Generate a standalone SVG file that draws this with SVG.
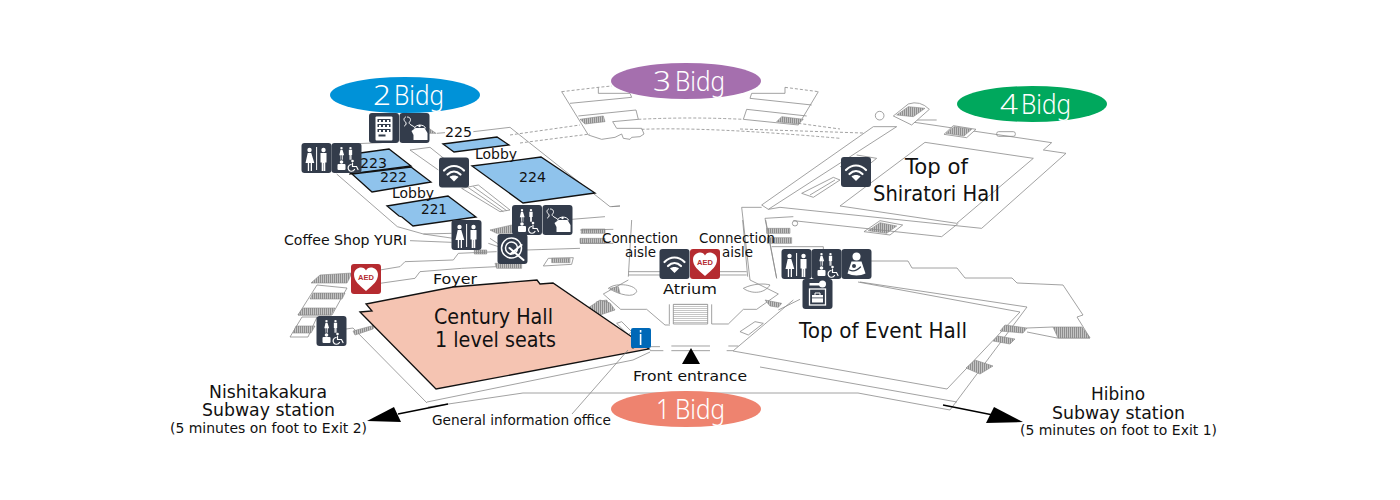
<svg xmlns="http://www.w3.org/2000/svg" width="1400" height="500" viewBox="0 0 1400 500">
<style>
text{font-family:"DejaVu Sans","Liberation Sans",sans-serif;fill:#111}
.l{fill:none;stroke:#8a8a8a;stroke-width:.8;vector-effect:non-scaling-stroke}
.d{fill:none;stroke:#8a8a8a;stroke-width:.8;stroke-dasharray:3 2;vector-effect:non-scaling-stroke}
.w{fill:#fff;stroke:#8a8a8a;stroke-width:.8;vector-effect:non-scaling-stroke}
.h{fill:url(#hatch);stroke:#8a8a8a;stroke-width:.6;vector-effect:non-scaling-stroke}
.hs{fill:url(#hatch3);stroke:#8a8a8a;stroke-width:.6;vector-effect:non-scaling-stroke}
.room{fill:#8fc3ec;stroke:#111;stroke-width:1.3}
.s12{font-size:13.5px}.s14{font-size:14.5px}.s16{font-size:17.5px}.s20{font-size:22px}
text.big{font-family:"Noto Sans","Open Sans","Liberation Sans",sans-serif;font-size:27px;fill:#fff;font-weight:300}
.bg{fill:#333c4b}
.iw{fill:#fff}
.st{fill:none;stroke:#fff;stroke-linecap:round}
</style>
<defs>
<pattern id="hatch" width="2" height="2" patternUnits="userSpaceOnUse"><rect width="2" height="2" fill="#c4c4c4"/><rect width="1" height="2" fill="#8e8e8e"/></pattern>
<pattern id="hatch3" width="6" height="6" patternUnits="userSpaceOnUse"><rect width="6" height="6" fill="#c4c4c4"/><rect width="3" height="6" fill="#8e8e8e"/></pattern>
<pattern id="treads" width="6" height="6" patternUnits="userSpaceOnUse"><rect width="6" height="6" fill="#fff"/><rect width="6" height="1.500" y="0" fill="#8e8e8e"/></pattern>
<rect id="tile" width="30" height="30" rx="3"/>
<g id="woman"><circle cx="0" cy="-8" r="2.200"/><path d="M-1.800-5h3.600l3 10h-2.300v8h-1.300v-8h-1.600v8h-1.300v-8h-2.300z"/></g>
<g id="man"><circle cx="0" cy="-8" r="2.200"/><path d="M-3-5h6v9.500h-1.200v8.500h-1.600v-8h-.4v8h-1.600v-8.500h-1.200z"/></g>
<g id="i-toilet"><use href="#tile" class="bg"/><g class="iw"><use href="#woman" x="8" y="15"/><use href="#man" x="22" y="15"/><rect x="14.600" y="4" width="1" height="23"/></g></g>
<g id="i-access"><use href="#tile" class="bg"/><g class="iw"><g transform="translate(10,9.500) scale(.55)"><use href="#woman"/></g><g transform="translate(19,9.500) scale(.55)"><use href="#man"/></g><rect x="6" y="21" width="8" height="6" rx="1"/><circle cx="10" cy="19" r="1.800"/></g><circle cx="21" cy="18" r="1.300" class="iw"/><path class="st" stroke-width="1.200" d="M21 20v3.500h4l1.500 3M19.500 21.500a3.400 3.400 0 1 0 3.500 5"/></g>
<g id="i-kettle"><use href="#tile" class="bg"/><path class="st" stroke-width="1" d="M6 4c-3 2-1 4 0 5s1 3-1 4M8 4c3 0 4 3 2 5s4 4 5 5"/><path class="iw" d="M12 18l4-3h9l3 5v7H14v-5z"/><circle class="iw" cx="20" cy="13" r="1.200"/><path class="st" stroke-width="1" d="M15 15c1-4 10-4 11 0"/></g>
<g id="i-wifi"><use href="#tile" class="bg"/><path class="st" stroke-width="2.200" d="M5 13c6-6 14-6 20 0M8.500 17c4-4 9-4 13 0"/><path class="iw" d="M15 24l-4.500-4.500c2-2 7-2 9 0z"/></g>
<g id="i-vend"><use href="#tile" class="bg"/><rect class="iw" x="6.500" y="3.500" width="17" height="24" rx="1"/><g fill="#333c4b"><rect x="8.500" y="6" width="13" height="3"/><rect x="8.500" y="11" width="13" height="3"/><rect x="8.500" y="16" width="13" height="3"/><rect x="9.500" y="21.500" width="7" height="2"/></g><g class="iw"><rect x="10" y="7" width="2" height="2"/><rect x="14" y="7" width="2" height="2"/><rect x="18" y="7" width="2" height="2"/><rect x="10" y="12" width="2" height="2"/><rect x="14" y="12" width="2" height="2"/><rect x="18" y="12" width="2" height="2"/><rect x="10" y="17" width="2" height="2"/><rect x="14" y="17" width="2" height="2"/><rect x="18" y="17" width="2" height="2"/></g></g>
<g id="i-rest"><use href="#tile" class="bg"/><circle class="st" stroke-width="1.500" cx="14" cy="14" r="10"/><circle class="st" stroke-width="1.500" cx="14" cy="14" r="6"/><path class="st" stroke-width="2" d="M12 14l14 12M13 20L24 11"/></g>
<g id="i-aed"><rect width="30" height="30" rx="3" fill="#b52b30"/><path class="iw" d="M15 27C8 21 3 17 3 10.500 3 6 7 3.500 10 3.500c2.500 0 4 1 5 3 1-2 2.500-3 5-3 3 0 7 2.500 7 7C27 17 22 21 15 27z"/><text x="15" y="15.500" text-anchor="middle" style="font-size:7.500px;font-weight:bold;fill:#b52b30;font-family:'Liberation Sans',sans-serif">AED</text></g>
<g id="i-baby"><use href="#tile" class="bg"/><circle class="iw" cx="15" cy="7.500" r="4"/><path class="iw" d="M10 12.500h10l4 12c-5 2.500-13 2.500-18 0z"/><path class="st" style="stroke:#333c4b" stroke-width="1.200" d="M8 21c4 2 7 1 11-3"/><circle cx="12.500" cy="17" r="2" fill="#333c4b"/></g>
<g id="i-key"><use href="#tile" class="bg"/><rect class="iw" x="7" y="4" width="12" height="2.500"/><circle class="iw" cx="20" cy="5" r="3.500"/><rect class="st" stroke-width="1.300" x="7" y="10" width="16" height="16"/><rect class="iw" x="9.500" y="16" width="11" height="7.500"/><rect class="bg" x="9" y="18.500" width="12" height=".8"/><path class="st" stroke-width="1" d="M12.500 16v-2h5v2"/></g>
</defs>
<rect width="1400" height="500" fill="#fff"/>

<g id="floorplan">
<g id="wing2" transform="translate(280,70) scale(.33333)">
<path class="l" d="M580 185L690 172 990 410 1020 408M470 190L495 188"/>
<path class="hs" d="M440 170L468 190 445 190z"/>
<path class="l" d="M205 222L305 218M170 312L352 470 430 492 515 490M390 240L450 232 510 280M390 240L475 300M430 492L520 505"/>
<path class="l" d="M545 355L595 345 690 420 660 425zM565 353L670 425M580 350L680 422"/>
<path class="l" d="M390 512L515 517"/>
<path class="hs" d="M630 480L695 465 695 490 650 490z"/>
<path class="l" d="M630 505L660 525M625 520L655 530"/>
<path class="hs" d="M583 540L620 540 620 552 583 552zM645 580L725 580 725 595 650 595z"/>
<path class="l" d="M790 588L805 565 880 563 875 583zM740 540L900 535"/>
<path class="hs" d="M815 565L870 565 870 578 815 578z"/>
<path class="l" d="M300 600L360 590 375 575 520 570 535 550 650 545M300 640L405 625 420 605 545 595 650 590"/>
<path class="l" d="M875 448L975 440M995 410L1020 408"/>
<path class="hs" d="M905 477L975 477 975 490 903 490zM900 505L975 505 975 520 900 520z"/>
<path class="l" d="M900 480L1000 478M900 520L1000 520"/>
</g>
<path class="d" d="M510 135L580 125M520 143L590 134"/>
<g id="wing3" transform="translate(540,60) scale(.33333)">
<path class="d" d="M65 95L175 82 215 78M735 82L835 95"/>
<path class="l" d="M65 95L145 225 185 238 225 232 245 222 250 235 270 238 275 232 300 230 312 222 305 205 230 205 218 185 295 178 288 150 115 168"/>
<path class="l" d="M90 130L275 112 270 100 175 100 175 82M835 95L775 195 610 178 620 148 800 168M630 115L815 135 M635 100L735 100 735 82 M630 115L635 100"/>
<path class="hs" d="M120 178L190 168 195 185 135 192zM710 185L725 170 790 178 775 192z"/>
<path class="d" d="M295 178Q450 170 610 178M305 208Q500 200 900 235M775 190L900 207"/>
</g>
<path class="d" d="M740 129L863 133"/>
<g id="wing4" transform="translate(740,90) scale(.33333)">
<circle class="l" cx="419" cy="77" r="13"/>
<path class="l" d="M65 345L400 110 470 110 85 358 65 345M530 90L590 90"/>
<path class="l" d="M510 95L935 158 910 180 978 190 725 415 120 352 85 358"/>
<path class="w" d="M460 78L505 42Q540 30 568 58L515 105z"/>
<path class="hs" d="M470 75L505 50 555 55 520 80z"/>
<path class="l" d="M555 157L880 205 650 400 300 348z"/>
<path class="w" d="M612 133L640 107 708 118 680 143z"/>
<path class="hs" d="M618 130L642 110 695 118 672 138z"/>
<path class="w" d="M372 425L420 392 488 405 450 435 372 425"/>
<path class="hs" d="M385 422L420 398 470 408 440 430z"/>
<path class="l" d="M160 392L605 440 655 400"/>
<rect class="l" x="770" y="125" width="56" height="14" rx="6"/>
<path class="l" d="M185 310L280 262 300 270 220 322zM210 315L285 270M350 195L410 205 385 225 300 230"/>
<path class="l" d="M5 352L65 352M5 352L30 570M75 385L160 380M75 385L110 565M95 470L250 470 250 490"/>
<path class="hs" d="M80 415L150 415 150 430 80 430zM82 443L155 443 155 460 82 460z"/>
<circle class="l" cx="165" cy="400" r="8"/>
</g>
<g id="atrium" transform="translate(600,220) scale(.33333)">
<path class="l" d="M95 0L85 170M428 0L443 170M497 0L530 175"/>
<path class="l" d="M85 155H180M85 165H180M358 155H440M358 165H440"/>
<path class="l" d="M85 180L10 222 62 268 140 268 195 315 210 315M450 180L535 222 470 268 430 268 385 312 335 312"/>
<path class="l" d="M208 253V312M335 253V312"/>
<rect x="220" y="253" width="103" height="59" fill="url(#treads)" stroke="#8a8a8a" stroke-width=".8" vector-effect="non-scaling-stroke"/>
<path class="l" d="M214 378H330M214 392H330M385 378H415M380 392H400M150 380H180M150 392H190"/>
<path class="l" d="M25 205C50 185 110 195 110 215 100 235 60 225 25 205zM430 205C460 190 495 190 510 195 490 225 450 220 430 205z"/>
<path class="hs" d="M30 205L55 200 60 220z"/>
<path class="l" d="M420 335L465 305 490 310 445 345zM50 310L65 305 95 335 85 345z"/>
<path class="hs" d="M-10 245L20 240 30 258 0 262zM495 240L545 250 535 262 510 258z"/>
<path class="l" d="M400 392L580 240M535 270L600 238"/>
</g>
<g id="front" fill="none">
<path class="l" d="M427 403L353 328 346 329"/>
<path class="l" d="M428 407L523 393 858 393 950 410 1027 307 860 282"/>
<path class="l" d="M427 402L633 360 650 352M733 351L947 389 1020 312 858 282M760 367L957 402"/>
<path class="h" d="M353 331L375 325 373 329 355 335zM600 300L610 303 615 310 594 317 585 310zM1005 325L1027 328 1023 333 1000 331zM998 336L1015 339 1010 344 993 341zM975 360L993 366 980 374 966 368z"/>
<path class="l" d="M870 261H908L912 268H957L965 278H1012L1017 283 1063 285 1083 315 1077 317 1090 338 1057 338M1027 328L1053 327M1027 332L1057 338"/>
<path class="h" d="M1053 327L1082 327 1090 338 1058 338z"/>
<path class="l" d="M317 285L347 288 332 315 298 315zM290 337L302 317 317 317 308 337z"/>
<path class="h" d="M311 283L320 275 352 273 347 283zM313 293L345 293 342 299 310 299zM303 308L335 308 331 315 298 315zM296 326L315 326 311 333 293 333z"/>
</g>
</g>

<g id="rooms">
<path class="room" d="M360 153L389 149 411 166 350 174z"/>
<path class="room" d="M352 174L411 167 431 182 372 192z"/>
<path class="room" d="M387 206L448 196 476 217 413 226 402 217 399 216z"/>
<path class="room" d="M472 166L541 157 595 193 523 203z"/>
<path class="room" d="M443 144L497 137 509 145 454 152z"/>
</g>
<path id="century-hall" d="M360 312L372 311 366 304 453 287 537 280 540 284 553 283 632 337 649 349 436 389z" fill="#f5c4b2" stroke="#111" stroke-width="1.300"/>

<g id="connectors">
<path d="M628 350L572 414" stroke="#8a8a8a" stroke-width=".8" fill="none"/>
<circle cx="633" cy="347" r="1.500" fill="#111"/>
<path d="M448 404L398 414" stroke="#000" stroke-width="1.500"/>
<path d="M367 421L394 407 401 422z" fill="#000"/>
<path d="M943 405L993 415" stroke="#000" stroke-width="1.500"/>
<path d="M1023 422L994 407 986 423z" fill="#000"/>
<path d="M691 348L682 364 700 364z" fill="#000"/>
</g>

<g id="b2"><ellipse cx="405" cy="95" rx="75" ry="18" fill="#0092d8"/><text class="big" x="373" y="105" textLength="18" lengthAdjust="spacingAndGlyphs">2</text><text class="big" x="394" y="105" textLength="50" lengthAdjust="spacingAndGlyphs">Bidg</text></g>
<g id="b3"><ellipse cx="686" cy="81" rx="75" ry="18" fill="#a56fae"/><text class="big" x="653" y="91" textLength="18" lengthAdjust="spacingAndGlyphs">3</text><text class="big" x="675" y="91" textLength="50" lengthAdjust="spacingAndGlyphs">Bidg</text></g>
<g id="b4"><ellipse cx="1032" cy="104" rx="75" ry="18" fill="#00a85d"/><text class="big" x="1000" y="114" textLength="18" lengthAdjust="spacingAndGlyphs">4</text><text class="big" x="1021" y="114" textLength="50" lengthAdjust="spacingAndGlyphs">Bidg</text></g>
<g id="b1"><ellipse cx="686" cy="409" rx="75" ry="18" fill="#ee836f"/><text class="big" x="656" y="419" textLength="14" lengthAdjust="spacingAndGlyphs">1</text><text class="big" x="675" y="419" textLength="50" lengthAdjust="spacingAndGlyphs">Bidg</text></g>

<g id="icons">
<use id="n-vend" href="#i-vend" x="369" y="113"/>
<use id="n-kettle1" href="#i-kettle" x="399.500" y="113"/>
<use id="n-toilet1" href="#i-toilet" x="301.500" y="143"/>
<use id="n-access1" href="#i-access" x="331.500" y="143"/>
<use id="n-wifi1" href="#i-wifi" x="439" y="157.500"/>
<use id="n-access2" href="#i-access" x="512" y="205"/>
<use id="n-kettle2" href="#i-kettle" x="542.500" y="205"/>
<use id="n-toilet2" href="#i-toilet" x="451.500" y="220"/>
<use id="n-rest" href="#i-rest" x="497.500" y="234"/>
<use id="n-aed1" href="#i-aed" x="351" y="264"/>
<use id="n-access3" href="#i-access" x="316.500" y="316"/>
<g id="n-info"><rect x="631" y="328" width="20" height="20" rx="2" fill="#0068b7"/><rect x="639.800" y="330" width="1.600" height="2.500" fill="#fff"/><rect x="639.800" y="334" width="1.600" height="11" fill="#fff"/></g>
<use id="n-wifi2" href="#i-wifi" x="659.500" y="249"/>
<use id="n-aed2" href="#i-aed" x="690" y="249"/>
<use id="n-toilet3" href="#i-toilet" x="781.500" y="249"/>
<use id="n-access4" href="#i-access" x="811.500" y="249"/>
<use id="n-baby" href="#i-baby" x="841.500" y="249"/>
<use id="n-key" href="#i-key" x="802.500" y="279"/>
<use id="n-wifi3" href="#i-wifi" x="841" y="157"/>
</g>

<g id="labels">
<text class="s14" x="445" y="137" textLength="27" lengthAdjust="spacingAndGlyphs">225</text>
<text class="s14" x="475" y="159" textLength="42" lengthAdjust="spacingAndGlyphs">Lobby</text>
<text class="s14" x="360" y="168" textLength="27" lengthAdjust="spacingAndGlyphs">223</text>
<text class="s14" x="380" y="182" textLength="27" lengthAdjust="spacingAndGlyphs">222</text>
<text class="s14" x="392" y="198" textLength="42" lengthAdjust="spacingAndGlyphs">Lobby</text>
<text class="s14" x="421" y="214" textLength="26" lengthAdjust="spacingAndGlyphs">221</text>
<text class="s14" x="519" y="182" textLength="27" lengthAdjust="spacingAndGlyphs">224</text>
<text class="s12" x="284" y="245" textLength="123" lengthAdjust="spacingAndGlyphs">Coffee Shop YURI</text>
<text class="s14" x="433" y="284" textLength="44" lengthAdjust="spacingAndGlyphs">Foyer</text>
<text class="s12" x="602" y="243" textLength="76" lengthAdjust="spacingAndGlyphs">Connection</text>
<text class="s12" x="625" y="257" textLength="31" lengthAdjust="spacingAndGlyphs">aisle</text>
<text class="s12" x="699" y="243" textLength="76" lengthAdjust="spacingAndGlyphs">Connection</text>
<text class="s12" x="722" y="257" textLength="31" lengthAdjust="spacingAndGlyphs">aisle</text>
<text class="s14" x="663" y="294" textLength="54" lengthAdjust="spacingAndGlyphs">Atrium</text>
<text class="s20" x="434" y="324" textLength="119" lengthAdjust="spacingAndGlyphs">Century Hall</text>
<text class="s20" x="435" y="347" textLength="121" lengthAdjust="spacingAndGlyphs">1 level seats</text>
<text class="s20" x="799" y="338" textLength="168" lengthAdjust="spacingAndGlyphs">Top of Event Hall</text>
<text class="s20" x="905" y="174" textLength="63" lengthAdjust="spacingAndGlyphs">Top of</text>
<text class="s20" x="873" y="201" textLength="127" lengthAdjust="spacingAndGlyphs">Shiratori Hall</text>
<text class="s14" x="633" y="381" textLength="114" lengthAdjust="spacingAndGlyphs">Front entrance</text>
<text class="s12" x="432" y="425" textLength="179" lengthAdjust="spacingAndGlyphs">General information office</text>
<text class="s16" x="209" y="398" textLength="118" lengthAdjust="spacingAndGlyphs">Nishitakakura</text>
<text class="s16" x="202" y="416" textLength="133" lengthAdjust="spacingAndGlyphs">Subway station</text>
<text class="s12" x="170" y="433" textLength="197" lengthAdjust="spacingAndGlyphs">(5 minutes on foot to Exit 2)</text>
<text class="s16" x="1091" y="400" textLength="54" lengthAdjust="spacingAndGlyphs">Hibino</text>
<text class="s16" x="1052" y="419" textLength="133" lengthAdjust="spacingAndGlyphs">Subway station</text>
<text class="s12" x="1020" y="435" textLength="197" lengthAdjust="spacingAndGlyphs">(5 minutes on foot to Exit 1)</text>
</g>
</svg>
